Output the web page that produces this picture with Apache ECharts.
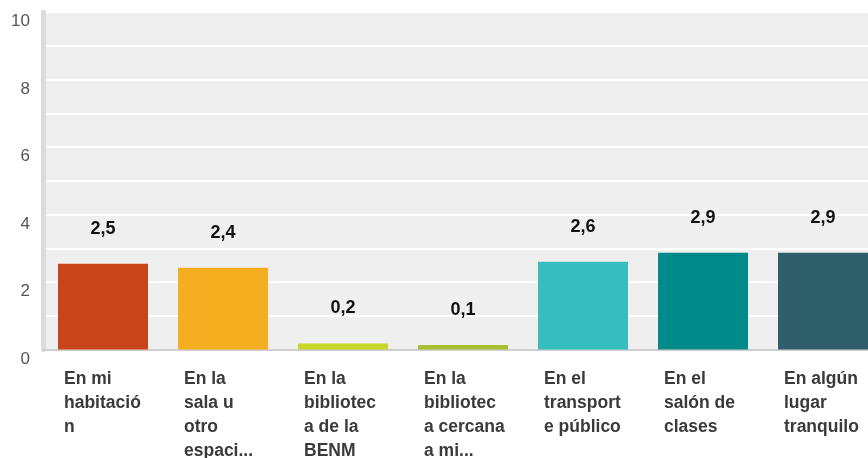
<!DOCTYPE html>
<html>
<head>
<meta charset="utf-8">
<script src="https://cdn.jsdelivr.net/npm/echarts@6/dist/echarts.min.js"></script>
<style>
  html, body { margin: 0; padding: 0; background: #fff; }
  #chart { width: 868px; height: 458px; }
</style>
</head>
<body>
<div id="chart"></div>
<script>
"use strict"

// categories, already wrapped the way the source shows them
const categories = [
  "En mi\nhabitació\nn",
  "En la\nsala u\notro\nespaci...",
  "En la\nbibliotec\na de la\nBENM",
  "En la\nbibliotec\na cercana\na mi...",
  "En el\ntransport\ne público",
  "En el\nsalón de\nclases",
  "En algún\nlugar\ntranquilo"
];

const values = [2.54, 2.42, 0.18, 0.13, 2.6, 2.87, 2.87];

const barColors = ["#c8451b", "#f5ae20", "#c9d62a", "#a9bf31", "#36bdbf", "#008b8a", "#2f5f6b"];

const yTicks = [0, 2, 4, 6, 8, 10];

const fontFamily = "'Liberation Sans', Arial, sans-serif";

const toComma = (v) => v.toFixed(1).replace(".", ",");

let chart = echarts.init(document.getElementById("chart"));

chart.setOption({
  animation: false,
  textStyle: { fontFamily: fontFamily },
  grid: {
    left: 43,
    top: 12,
    width: 840,
    height: 337.5,
    outerBoundsMode: "none",
    containLabel: false,
    show: true,
    backgroundColor: "#efefef",
    borderWidth: 0
  },
  xAxis: {
    type: "category",
    data: categories,
    axisLine: { show: true, lineStyle: { color: "#cfcfcf", width: 2 } },
    axisTick: { show: false },
    axisLabel: {
      interval: 0,
      margin: 18,
      formatter: (v) => "{a|" + v.split("\n").join("}\n{a|") + "}",
      rich: {
        a: {
          width: 78,
          align: "left",
          fontSize: 17.5,
          fontWeight: "bold",
          lineHeight: 24,
          color: "#3a3a3a",
          fontFamily: fontFamily
        }
      }
    }
  },
  yAxis: {
    type: "value",
    min: 0,
    max: 10,
    interval: 1,
    axisLine: { show: true, lineStyle: { color: "#dcdcdc", width: 5 } },
    axisTick: { show: false },
    axisLabel: {
      margin: 13,
      fontSize: 17,
      color: "#555",
      verticalAlign: "top",
      padding: [1, 0, 0, 0],
      formatter: (v) => yTicks.includes(v) ? String(v) : ""
    },
    splitLine: { show: true, lineStyle: { color: "#ffffff", width: 2 } }
  },
  series: [{
    type: "bar",
    barWidth: 90,
    data: values.map((v, i) => ({ value: v, itemStyle: { color: barColors[i] } })),
    label: {
      show: true,
      position: "top",
      distance: 26,
      fontSize: 18,
      fontWeight: "bold",
      color: "#111",
      formatter: (p) => toComma(p.value)
    }
  }]
});
</script>
</body>
</html>
